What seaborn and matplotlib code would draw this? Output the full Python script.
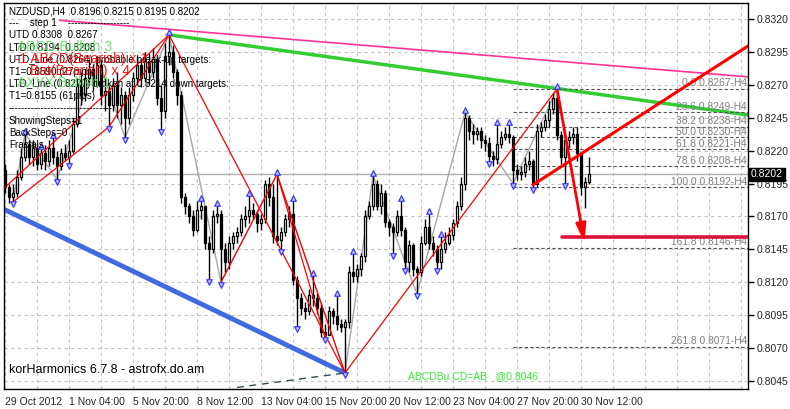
import numpy as np
import pandas as pd
import seaborn as sns
import matplotlib.pyplot as plt

sns.set_style("white")
plt.rcParams['font.family'] = ['Liberation Sans', 'DejaVu Sans']

# NZDUSD H4 bars (open of each bar = previous close)
first_open = 0.8205
closes = [0.8192, 0.8185, 0.8188, 0.8200, 0.8215, 0.8225, 0.8215, 0.8222, 0.8210, 0.8218,
          0.8212, 0.8222, 0.8215, 0.8208, 0.8218, 0.8215, 0.8220, 0.8240, 0.8270, 0.8262,
          0.8275, 0.8282, 0.8270, 0.8285, 0.8262, 0.8265, 0.8255, 0.8270, 0.8255, 0.8262,
          0.8245, 0.8262, 0.8275, 0.8285, 0.8275, 0.8288, 0.8280, 0.8290, 0.8260, 0.8250,
          0.8292, 0.8295, 0.8280, 0.8262, 0.8185, 0.8178, 0.8170, 0.8160, 0.8175, 0.8178,
          0.8150, 0.8145, 0.8170, 0.8172, 0.8145, 0.8135, 0.8150, 0.8155, 0.8158, 0.8168,
          0.8170, 0.8175, 0.8172, 0.8165, 0.8168, 0.8195, 0.8185, 0.8155, 0.8152, 0.8158,
          0.8168, 0.8172, 0.8122, 0.8108, 0.8100, 0.8098, 0.8110, 0.8108, 0.8100, 0.8082,
          0.8080, 0.8098, 0.8094, 0.8088, 0.8086, 0.8090, 0.8128, 0.8125, 0.8130, 0.8140,
          0.8170, 0.8178, 0.8195, 0.8178, 0.8188, 0.8166, 0.8162, 0.8158, 0.8170, 0.8160,
          0.8135, 0.8148, 0.8130, 0.8128, 0.8150, 0.8162, 0.8150, 0.8145, 0.8135, 0.8145,
          0.8150, 0.8156, 0.8165, 0.8178, 0.8195, 0.8245, 0.8235, 0.8233, 0.8235, 0.8228,
          0.8226, 0.8216, 0.8214, 0.8225, 0.8230, 0.8233, 0.8230, 0.8205, 0.8202, 0.8204,
          0.8210, 0.8212, 0.8195, 0.8235, 0.8238, 0.8243, 0.8252, 0.8260, 0.8232, 0.8215,
          0.8228, 0.8230, 0.8233, 0.8218, 0.8192, 0.8196, 0.8202]
highs = [0.8210, 0.8195, 0.8195, 0.8205, 0.8222, 0.8233, 0.8228, 0.8228, 0.8226, 0.8222,
         0.8224, 0.8228, 0.8230, 0.8220, 0.8222, 0.8225, 0.8228, 0.8245, 0.8275, 0.8280,
         0.8282, 0.8290, 0.8286, 0.8292, 0.8289, 0.8275, 0.8270, 0.8275, 0.8280, 0.8268,
         0.8265, 0.8268, 0.8280, 0.8292, 0.8290, 0.8295, 0.8294, 0.8298, 0.8292, 0.8270,
         0.8302, 0.8308, 0.8300, 0.8282, 0.8265, 0.8188, 0.8180, 0.8175, 0.8182, 0.8182,
         0.8178, 0.8155, 0.8175, 0.8178, 0.8175, 0.8150, 0.8155, 0.8158, 0.8162, 0.8172,
         0.8178, 0.8186, 0.8180, 0.8175, 0.8172, 0.8198, 0.8200, 0.8195, 0.8202, 0.8162,
         0.8172, 0.8178, 0.8182, 0.8125, 0.8112, 0.8105, 0.8115, 0.8125, 0.8112, 0.8104,
         0.8088, 0.8102, 0.8100, 0.8110, 0.8092, 0.8092, 0.8132, 0.8142, 0.8134, 0.8142,
         0.8175, 0.8182, 0.8201, 0.8198, 0.8195, 0.8190, 0.8168, 0.8165, 0.8175, 0.8182,
         0.8162, 0.8152, 0.8150, 0.8132, 0.8155, 0.8168, 0.8172, 0.8155, 0.8148, 0.8155,
         0.8158, 0.8162, 0.8168, 0.8182, 0.8200, 0.8249, 0.8247, 0.8240, 0.8238, 0.8238,
         0.8232, 0.8230, 0.8220, 0.8240, 0.8235, 0.8238, 0.8240, 0.8232, 0.8210, 0.8208,
         0.8215, 0.8220, 0.8214, 0.8240, 0.8242, 0.8248, 0.8258, 0.8264, 0.8267, 0.8235,
         0.8232, 0.8235, 0.8238, 0.8238, 0.8218, 0.8200, 0.8215]
lows = [0.8188, 0.8180, 0.8181, 0.8185, 0.8198, 0.8212, 0.8210, 0.8208, 0.8205, 0.8206,
        0.8205, 0.8208, 0.8210, 0.8198, 0.8205, 0.8212, 0.8210, 0.8218, 0.8238, 0.8255,
        0.8258, 0.8270, 0.8265, 0.8268, 0.8255, 0.8250, 0.8238, 0.8250, 0.8245, 0.8240,
        0.8230, 0.8240, 0.8258, 0.8270, 0.8268, 0.8272, 0.8270, 0.8275, 0.8255, 0.8236,
        0.8245, 0.8285, 0.8275, 0.8255, 0.8180, 0.8172, 0.8165, 0.8155, 0.8158, 0.8168,
        0.8145, 0.8122, 0.8142, 0.8165, 0.8120, 0.8128, 0.8130, 0.8145, 0.8150, 0.8155,
        0.8162, 0.8165, 0.8168, 0.8158, 0.8160, 0.8165, 0.8178, 0.8150, 0.8148, 0.8145,
        0.8155, 0.8162, 0.8118, 0.8086, 0.8095, 0.8092, 0.8095, 0.8102, 0.8096, 0.8078,
        0.8078, 0.8082, 0.8088, 0.8084, 0.8082, 0.8051, 0.8085, 0.8120, 0.8120, 0.8125,
        0.8135, 0.8168, 0.8175, 0.8175, 0.8172, 0.8162, 0.8155, 0.8142, 0.8155, 0.8155,
        0.8130, 0.8128, 0.8125, 0.8111, 0.8125, 0.8148, 0.8145, 0.8140, 0.8130, 0.8130,
        0.8142, 0.8148, 0.8152, 0.8162, 0.8175, 0.8190, 0.8228, 0.8225, 0.8228, 0.8222,
        0.8220, 0.8212, 0.8208, 0.8210, 0.8222, 0.8228, 0.8226, 0.8195, 0.8198, 0.8198,
        0.8200, 0.8205, 0.8192, 0.8192, 0.8230, 0.8235, 0.8238, 0.8248, 0.8228, 0.8210,
        0.8195, 0.8222, 0.8225, 0.8212, 0.8186, 0.8176, 0.8195]

date_ticks = [0, 16, 32, 48, 64, 80, 96, 112, 128, 144]
date_labels = ["29 Oct 2012", "1 Nov 04:00", "5 Nov 20:00", "8 Nov 12:00", "13 Nov 04:00",
               "15 Nov 20:00", "20 Nov 12:00", "23 Nov 04:00", "27 Nov 20:00", "30 Nov 12:00"]
price_ticks = [0.8320, 0.8295, 0.8270, 0.8245, 0.8220, 0.8195, 0.8170, 0.8145, 0.8120,
               0.8095, 0.8070, 0.8045]

up_fractals = [5, 9, 12, 41, 49, 53, 61, 68, 72, 77, 83, 87, 92, 99, 106, 109, 115, 123, 126, 138]
down_fractals = [2, 13, 16, 26, 30, 39, 51, 54, 69, 73, 80, 85, 97, 100, 103, 108, 121, 127, 132, 140]

zz_bar = [2, 5, 13, 23, 30, 41, 54, 68, 85, 92, 103, 115, 127, 138]
zz_price = [0.8181, 0.8233, 0.8198, 0.8292, 0.8230, 0.8308, 0.8120, 0.8202, 0.8051, 0.8201,
            0.8111, 0.8249, 0.8195, 0.8267]

# harmonic pattern legs (thin red)
red_x0 = [0, 2, 26, 41, 54, 68, 68, 85]
red_y0 = [0.8192, 0.8181, 0.8238, 0.8308, 0.8120, 0.8202, 0.8202, 0.8051]
red_x1 = [41, 26, 41, 85, 68, 80, 85, 138]
red_y1 = [0.8308, 0.8238, 0.8308, 0.8051, 0.8202, 0.8078, 0.8051, 0.8267]

fib_pct = ["0.0", "23.6", "38.2", "50.0", "61.8", "78.6", "100.0", "161.8", "261.8"]
fib_price = [0.8267, 0.8249, 0.8238, 0.8230, 0.8221, 0.8208, 0.8192, 0.8146, 0.8071]

info_lines = ["NZDUSD,H4  0.8196 0.8215 0.8195 0.8202",
              "---    step 1    -------------------",
              "UTD 0.8308  0.8267",
              "LTD 0.8194  0.8208",
              "UTD_Line (0.8264) probable break-up targets:",
              "T1=0.8590 (27pips)",
              "LTD_Line (0.8227) broken at 0.8214 down targets:",
              "T1=0.8155 (61pips)",
              "--------------------------------",
              "ShowingSteps=1",
              "BackSteps=0",
              "Fractals"]

df = pd.DataFrame({"bar": np.arange(len(closes)), "close": closes, "high": highs, "low": lows})
df["open"] = [first_open] + closes[:-1]
df["high"] = df[["high", "open", "close"]].max(axis=1)
df["low"] = df[["low", "open", "close"]].min(axis=1)

W, H = 790, 409
fig = plt.figure(figsize=(W / 100, H / 100), dpi=100)
fig.patch.set_facecolor("white")
ax = fig.add_axes([4 / W, 1 - 389 / H, 744 / W, 386 / H])
ax.set_xlim(-0.25, 185.75)
ax.set_ylim(0.80388, 0.83322)

# grid
for gx in range(0, 186, 8):
    ax.axvline(gx, color="#c4c4c4", lw=0.8, ls=(0, (3, 3)), zorder=0)
for gy in price_ticks:
    ax.axhline(gy, color="#c4c4c4", lw=0.8, ls=(0, (3, 3)), zorder=0)

# bid line
ax.axhline(closes[-1], color="#b0b0b0", lw=1, zorder=1)

# trend lines
ax.plot([13.75, 186], [0.8319, 0.8276], color="#ff3399", lw=1.2, zorder=2)
ax.plot([41, 186], [0.8308, 0.8247], color="#33cc33", lw=2.5, zorder=2)
ax.plot([0, 85], [0.8175, 0.8051], color="#4169e1", lw=3.5, zorder=2)
ax.plot([58, 85], [0.8040, 0.8051], color="#2f4f4f", lw=1, ls=(0, (5, 4)), zorder=2)

# fib levels
for lab, fp in zip(fib_pct, fib_price):
    ax.plot([127, 186], [fp, fp], color="#555555", lw=0.8, ls=(0, (3, 2)), zorder=2)
    ax.text(185.5, fp + 0.00005, f"{lab} {fp:.4f}-H4", color="#808080", fontsize=7.4,
            ha="right", va="bottom", zorder=3)

# zigzag
sns.lineplot(x=zz_bar, y=zz_price, color="#a8a8a8", lw=1, sort=False, ax=ax, zorder=2)

# candles
ax.vlines(df["bar"], df["low"], df["high"], color="black", lw=1, zorder=4)
bull = df[df["close"] >= df["open"]]
bear = df[df["close"] < df["open"]]
ax.bar(bull["bar"], bull["close"] - bull["open"], bottom=bull["open"], width=0.62,
       color="white", edgecolor="black", lw=0.9, zorder=5)
ax.bar(bear["bar"], bear["close"] - bear["open"], bottom=bear["open"], width=0.62,
       color="black", edgecolor="black", lw=0.9, zorder=5)

# pattern legs
for a, b, c, d in zip(red_x0, red_y0, red_x1, red_y1):
    ax.plot([a, c], [b, d], color="red", lw=0.9, zorder=6)

# thick projections
ax.plot([132, 186], [0.8194, 0.8300], color="red", lw=2.2, zorder=6)
ax.plot([139.25, 186], [0.8154, 0.8154], color="#dc143c", lw=2.6, zorder=6)
ax.annotate("", xy=(145, 0.8148), xytext=(138, 0.8267),
            arrowprops=dict(arrowstyle="-|>,head_width=0.3,head_length=1.1", color="red", lw=2),
            zorder=7)

# fractal arrows
ups = df.loc[up_fractals]
downs = df.loc[down_fractals]
ax.scatter(ups["bar"], ups["high"] + 0.00018, marker="^", s=16, facecolor="#c8c8ff",
           edgecolor="#3a3aff", lw=0.9, zorder=8)
ax.scatter(downs["bar"], downs["low"] - 0.00018, marker="v", s=16, facecolor="#c8c8ff",
           edgecolor="#3a3aff", lw=0.9, zorder=8)

# axes styling
for s in ax.spines.values():
    s.set_color("black")
    s.set_linewidth(1)
ax.yaxis.tick_right()
ax.set_yticks(price_ticks)
ax.set_yticklabels([f"{p:.4f}" for p in price_ticks], fontsize=7.5)
ax.set_xticks(date_ticks)
ax.set_xticklabels(date_labels, fontsize=7.5, ha="left")
ax.tick_params(axis="both", direction="out", length=4, width=1, color="black", pad=2)
ax.set_xlabel("")
ax.set_ylabel("")

# current price box
ax.text(1.004, closes[-1], f"{closes[-1]:.4f}", transform=ax.get_yaxis_transform(),
        color="white", fontsize=7.5, va="center", ha="left",
        bbox=dict(boxstyle="square,pad=0.15", fc="black", ec="black"), zorder=10)

# info text (overlapping as in the original terminal)
for k, line in enumerate(info_lines):
    fig.text(9 / W, 1 - (11 + 12.2 * k) / H, line, fontsize=7.1, color="black", va="center")
fig.text(17 / W, 1 - 47 / H, "ABCD Bullish 3", fontsize=10, color="#66dd66", va="center", alpha=0.9)
fig.text(15 / W, 1 - 59 / H, "-1 ABCD(Bearish) x 1", fontsize=10, color="red", va="center", alpha=0.9)
fig.text(30 / W, 1 - 71 / H, "Bat(Bearish) x 4", fontsize=10, color="red", va="center", alpha=0.9)
fig.text(17 / W, 1 - 83 / H, "AXYX Bullish 1", fontsize=10, color="#66dd66", va="center", alpha=0.9)

fig.text(9 / W, 1 - 370 / H, "korHarmonics 6.7.8 - astrofx.do.am", fontsize=9, color="black", va="center")
fig.text(408 / W, 1 - 376 / H, "ABCDBu CD=AB   @0.8046", fontsize=7.5, color="#33ee33", va="center")

fig.savefig("out.png", dpi=100, facecolor="white")
